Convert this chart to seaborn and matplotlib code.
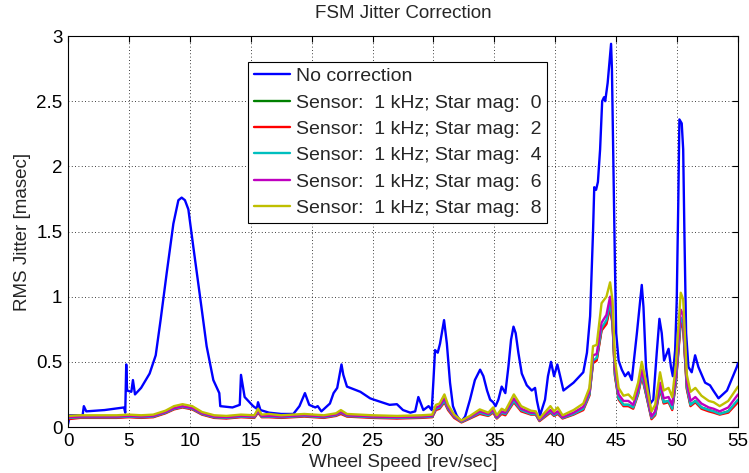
import numpy as np
import pandas as pd
import matplotlib
matplotlib.use("Agg")
import matplotlib.pyplot as plt
import seaborn as sns
from matplotlib.ticker import FuncFormatter, MultipleLocator

# ---- data ----
blue_x = [0.0, 0.15, 1.2, 1.3, 1.5, 3.0, 4.6, 4.7, 4.78, 4.85, 5.2, 5.33, 5.5, 6.0, 6.7, 7.2,
          7.6, 8.1, 8.65, 9.06, 9.33, 9.6, 9.88, 10.29, 10.84, 11.38, 11.93, 12.42, 12.5, 13.5,
          14.1, 14.2, 14.5, 15.2, 15.5, 15.6, 15.8, 16.5, 17.5, 18.5, 19.0, 19.45, 19.8, 20.3,
          20.5, 20.8, 21.5, 21.8, 22.1, 22.45, 22.6, 22.9, 24.0, 24.8, 25.1, 26.4, 27.0, 27.5,
          28.1, 28.5, 28.76, 29.17, 29.6, 29.86, 30.0, 30.13, 30.35, 30.54, 30.87, 31.1, 31.36,
          31.6, 31.9, 32.27, 32.6, 33.0, 33.4, 33.83, 34.1, 34.4, 34.65, 34.9, 35.1, 35.33, 35.6,
          35.9, 36.15, 36.37, 36.57, 36.75, 36.97, 37.25, 37.66, 38.07, 38.34, 38.5, 38.75, 39.16,
          39.4, 39.65, 39.9, 40.17, 40.4, 40.67, 41.5, 42.3, 42.6, 42.86, 43.1, 43.2, 43.35, 43.5,
          43.68, 43.85, 44.0, 44.1, 44.3, 44.45, 44.58, 44.65, 44.77, 44.9, 45.0, 45.2, 45.46,
          45.73, 46.0, 46.28, 46.7, 47.1, 47.24, 47.45, 47.8, 48.05, 48.33, 48.55, 48.74, 48.93,
          49.3, 49.5, 49.65, 49.84, 49.97, 50.1, 50.19, 50.38, 50.5, 50.6, 50.74, 50.93, 51.2,
          51.48, 51.75, 52.3, 52.7, 52.97, 53.4, 54.1, 54.9, 55.0]
blue_y = [0.02, 0.09, 0.09, 0.16, 0.12, 0.13, 0.15, 0.11, 0.48, 0.28, 0.27, 0.36, 0.25, 0.30, 0.41, 0.55,
          0.82, 1.18, 1.56, 1.74, 1.76, 1.74, 1.67, 1.38, 1.00, 0.62, 0.36, 0.26, 0.16, 0.15,
          0.17, 0.40, 0.23, 0.16, 0.14, 0.19, 0.13, 0.11, 0.10, 0.10, 0.16, 0.26, 0.17, 0.15,
          0.16, 0.12, 0.18, 0.26, 0.30, 0.48, 0.40, 0.31, 0.27, 0.22, 0.21, 0.17, 0.175, 0.13,
          0.11, 0.12, 0.23, 0.13, 0.16, 0.13, 0.36, 0.59, 0.57, 0.64, 0.82, 0.64, 0.34,
          0.16, 0.09, 0.04, 0.08, 0.21, 0.36, 0.44, 0.39, 0.28, 0.21, 0.19, 0.16, 0.21, 0.31,
          0.26, 0.46, 0.67, 0.77, 0.72, 0.57, 0.41, 0.32, 0.28, 0.30, 0.20, 0.09, 0.21,
          0.39, 0.50, 0.39, 0.48, 0.39, 0.28, 0.34, 0.42, 0.57, 0.85, 1.50, 1.84, 1.82, 1.88,
          2.13, 2.50, 2.53, 2.50, 2.64, 2.80, 2.94, 2.75, 2.00, 1.23, 0.72, 0.51, 0.44,
          0.39, 0.42, 0.36, 0.72, 1.09, 0.92, 0.46, 0.18, 0.21, 0.57, 0.83, 0.72, 0.51,
          0.60, 0.46, 0.39, 0.59, 0.97, 1.74, 2.36, 2.33, 2.13, 1.49, 0.72, 0.46, 0.42,
          0.55, 0.46, 0.34, 0.32, 0.28, 0.22, 0.28, 0.46, 0.49]

corr_x = [0.0, 1.0, 2.0, 3.0, 4.0, 5.0, 6.0, 7.0, 8.0, 8.7, 9.4, 10.2, 11.0, 12.0, 13.0, 14.2,
          15.3, 15.6, 15.9, 16.5, 17.5, 19.4, 21.0, 22.0, 22.4, 22.9, 25.0, 27.0, 29.0, 29.9,
          30.2, 30.5, 30.9, 31.2, 31.7, 32.3, 33.0, 33.8, 34.5, 34.9, 35.2, 35.6, 35.9, 36.6,
          37.2, 38.0, 38.4, 38.7, 39.6, 39.9, 40.2, 40.6, 41.5, 42.3, 42.8, 43.1, 43.4, 43.8,
          44.2, 44.5, 44.7, 44.9, 45.2, 45.6, 46.0, 46.4, 46.8, 47.1, 47.4, 47.9, 48.2, 48.6,
          48.9, 49.3, 49.6, 49.9, 50.3, 50.5, 50.8, 51.1, 51.5, 52.0, 52.6, 53.0, 53.5, 54.2, 55.0]
mag0 = [.07, .075, .075, .075, .075, .08, .075, .08, .11, .14, .155, .14, .10, .075, .07, .08,
        .075, .12, .08, .08, .075, .085, .075, .09, .11, .085, .075, .07, .075, .08,
        .14, .15, .20, .14, .08, .04, .07, .11, .09, .12, .07, .11, .10, .20,
        .13, .10, .10, .05, .12, .09, .11, .07, .10, .14, .25, .50, .52, .75,
        .80, .93, .80, .40, .22, .17, .17, .15, .26, .40, .28, .07, .10, .30,
        .19, .20, .14, .35, .82, .78, .30, .17, .20, .15, .13, .12, .10, .12, .20]
mag2 = [.06, .07, .07, .07, .07, .075, .07, .075, .105, .135, .15, .135, .095, .07, .065, .075,
        .07, .11, .075, .075, .07, .08, .07, .085, .10, .08, .07, .065, .07, .075,
        .13, .14, .19, .13, .07, .035, .065, .10, .085, .11, .065, .10, .09, .19,
        .12, .095, .095, .045, .11, .085, .10, .065, .095, .13, .24, .49, .51, .74,
        .79, .92, .79, .39, .21, .16, .16, .14, .25, .39, .27, .06, .09, .29,
        .18, .19, .13, .34, .80, .76, .29, .16, .19, .14, .12, .11, .095, .11, .19]
mag4 = [.07, .075, .075, .075, .075, .08, .075, .08, .11, .14, .155, .14, .10, .075, .07, .08,
        .075, .12, .08, .08, .075, .085, .075, .09, .11, .085, .075, .07, .075, .08,
        .14, .15, .20, .14, .08, .04, .07, .11, .09, .12, .07, .11, .10, .20,
        .13, .10, .10, .05, .12, .09, .11, .07, .10, .14, .25, .51, .53, .76,
        .82, .95, .82, .41, .22, .17, .17, .15, .26, .41, .28, .07, .10, .31,
        .19, .20, .14, .36, .84, .80, .31, .17, .20, .15, .13, .12, .10, .12, .21]
mag6 = [.075, .08, .08, .08, .08, .085, .08, .085, .115, .145, .16, .145, .105, .08, .075, .085,
        .08, .125, .085, .085, .08, .09, .08, .095, .115, .09, .08, .075, .08, .085,
        .15, .16, .22, .15, .085, .045, .075, .12, .10, .13, .075, .12, .11, .22,
        .14, .11, .11, .055, .13, .10, .12, .075, .11, .155, .27, .55, .56, .80,
        .86, 1.00, .87, .45, .25, .20, .20, .17, .29, .44, .31, .08, .12, .34,
        .22, .23, .17, .40, .90, .86, .34, .20, .23, .18, .15, .14, .12, .15, .25]
mag8 = [.085, .09, .09, .09, .09, .095, .09, .095, .125, .16, .175, .16, .115, .09, .085, .095,
        .09, .14, .095, .10, .09, .10, .09, .105, .13, .10, .09, .085, .09, .095,
        .17, .18, .25, .17, .095, .05, .085, .135, .11, .15, .09, .14, .125, .25,
        .16, .125, .12, .065, .16, .12, .15, .09, .13, .18, .30, .62, .63, .95,
        1.00, 1.11, .97, .52, .30, .24, .25, .21, .34, .50, .37, .12, .17, .42,
        .28, .30, .23, .48, 1.03, .98, .40, .27, .30, .24, .20, .19, .16, .20, .31]

labels = ["No correction",
          "Sensor:  1 kHz; Star mag:  0",
          "Sensor:  1 kHz; Star mag:  2",
          "Sensor:  1 kHz; Star mag:  4",
          "Sensor:  1 kHz; Star mag:  6",
          "Sensor:  1 kHz; Star mag:  8"]
colors = ["#0000ff", "#008000", "#ff0000", "#00bfbf", "#bf00bf", "#bfbf00"]

frames = [pd.DataFrame({"speed": blue_x, "jitter": blue_y, "series": labels[0]})]
for lab, vals in zip(labels[1:], [mag0, mag2, mag4, mag6, mag8]):
    frames.append(pd.DataFrame({"speed": corr_x, "jitter": vals, "series": lab}))
df = pd.concat(frames, ignore_index=True)

sns.set_style("white")
plt.rcParams["font.family"] = ["Liberation Sans", "DejaVu Sans"]

fig = plt.figure(figsize=(7.49, 4.73), dpi=100)
ax = fig.add_axes([68/749, 1-427/473, 670/749, 391/473])

for lab, col in zip(labels, colors):
    sub = df[df["series"] == lab]
    sns.lineplot(data=sub, x="speed", y="jitter", color=col, lw=1.7, ax=ax,
                 label=lab, sort=False, estimator=None)

ax.set_xlim(0, 55)
ax.set_ylim(0, 3)
ax.xaxis.set_major_locator(MultipleLocator(5))
ax.yaxis.set_major_locator(MultipleLocator(0.5))
ax.yaxis.set_major_formatter(FuncFormatter(lambda v, p: f"{v:g}"))
ax.grid(True, color="black", linestyle=(0, (1, 3)), linewidth=0.6)
ax.tick_params(direction="in", length=4, width=0.8, top=True, right=True,
               labelsize=13.5, colors="black", pad=4)
for s in ax.spines.values():
    s.set_color("black")
    s.set_linewidth(0.8)

ax.set_title("FSM Jitter Correction", fontsize=13.5, pad=13)
ax.set_xlabel("Wheel Speed [rev/sec]", fontsize=13.5, labelpad=3)
ax.set_ylabel("RMS Jitter [masec]", fontsize=13.5, labelpad=4)

leg = ax.legend(loc="upper left", bbox_to_anchor=((248-68)/670, (427-61.7)/391),
                borderaxespad=0, fontsize=14, frameon=True, fancybox=False,
                framealpha=1, edgecolor="black", handlelength=1.85, handletextpad=0.3,
                labelspacing=0.45, borderpad=0.3)
leg.get_frame().set_linewidth(0.8)

fig.savefig("out.png", dpi=100)
